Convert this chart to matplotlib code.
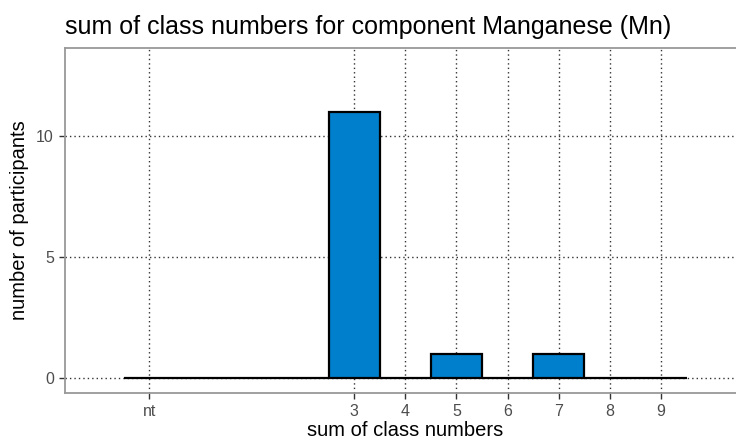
import matplotlib
matplotlib.use("Agg")
import matplotlib.pyplot as plt

plt.rcParams['font.family'] = ['Liberation Sans', 'DejaVu Sans']

# data
positions = [-1, 0, 1, 2, 3, 4, 5, 6, 7, 8, 9]
counts = [0, 0, 0, 0, 11, 0, 1, 0, 1, 0, 0]
tick_pos = [-1, 3, 4, 5, 6, 7, 8, 9]
tick_labels = ['nt', '3', '4', '5', '6', '7', '8', '9']
y_ticks = [0, 5, 10]

W, H = 736, 443
fig = plt.figure(figsize=(W / 100, H / 100), dpi=100)

x0, x1 = -2.65, 11.2
y0, y1 = -0.62, 13.64
pxu = 51.17
left_px, top_px, bottom_px = 65, 48, 393
width_px = (x1 - x0) * pxu
ax = fig.add_axes([left_px / W, 1 - bottom_px / H, width_px / W, (bottom_px - top_px) / H])
ax.set_xlim(x0, x1)
ax.set_ylim(y0, y1)

ax.bar(positions, counts, width=1.0, color='#0080CC', edgecolor='black',
       linewidth=1.6, zorder=3)

ax.set_xticks(tick_pos)
ax.set_xticklabels(tick_labels)
ax.set_yticks(y_ticks)
ax.grid(True, linestyle=(0, (1, 2.2)), color='#333333', linewidth=1.0, zorder=1)
ax.set_axisbelow(True)

for s in ['left', 'bottom', 'top']:
    ax.spines[s].set_color('#999999')
    ax.spines[s].set_linewidth(1.3)
ax.spines['right'].set_visible(False)

ax.tick_params(axis='both', colors='#333333', labelcolor='#4D4D4D',
               labelsize=11.5, length=4, width=1.0, direction='out', pad=4)

ax.set_xlabel('sum of class numbers', fontsize=14.5, color='black', labelpad=1)
ax.xaxis.label.set_x((405 - left_px) / width_px)
ax.set_ylabel('number of participants', fontsize=14.5, color='black', labelpad=5)

fig.text(65 / W, 1 - 27 / H, 'sum of class numbers for component Manganese (Mn)',
         fontsize=18, color='black', ha='left', va='center')

fig.savefig('out.png', dpi=100)
